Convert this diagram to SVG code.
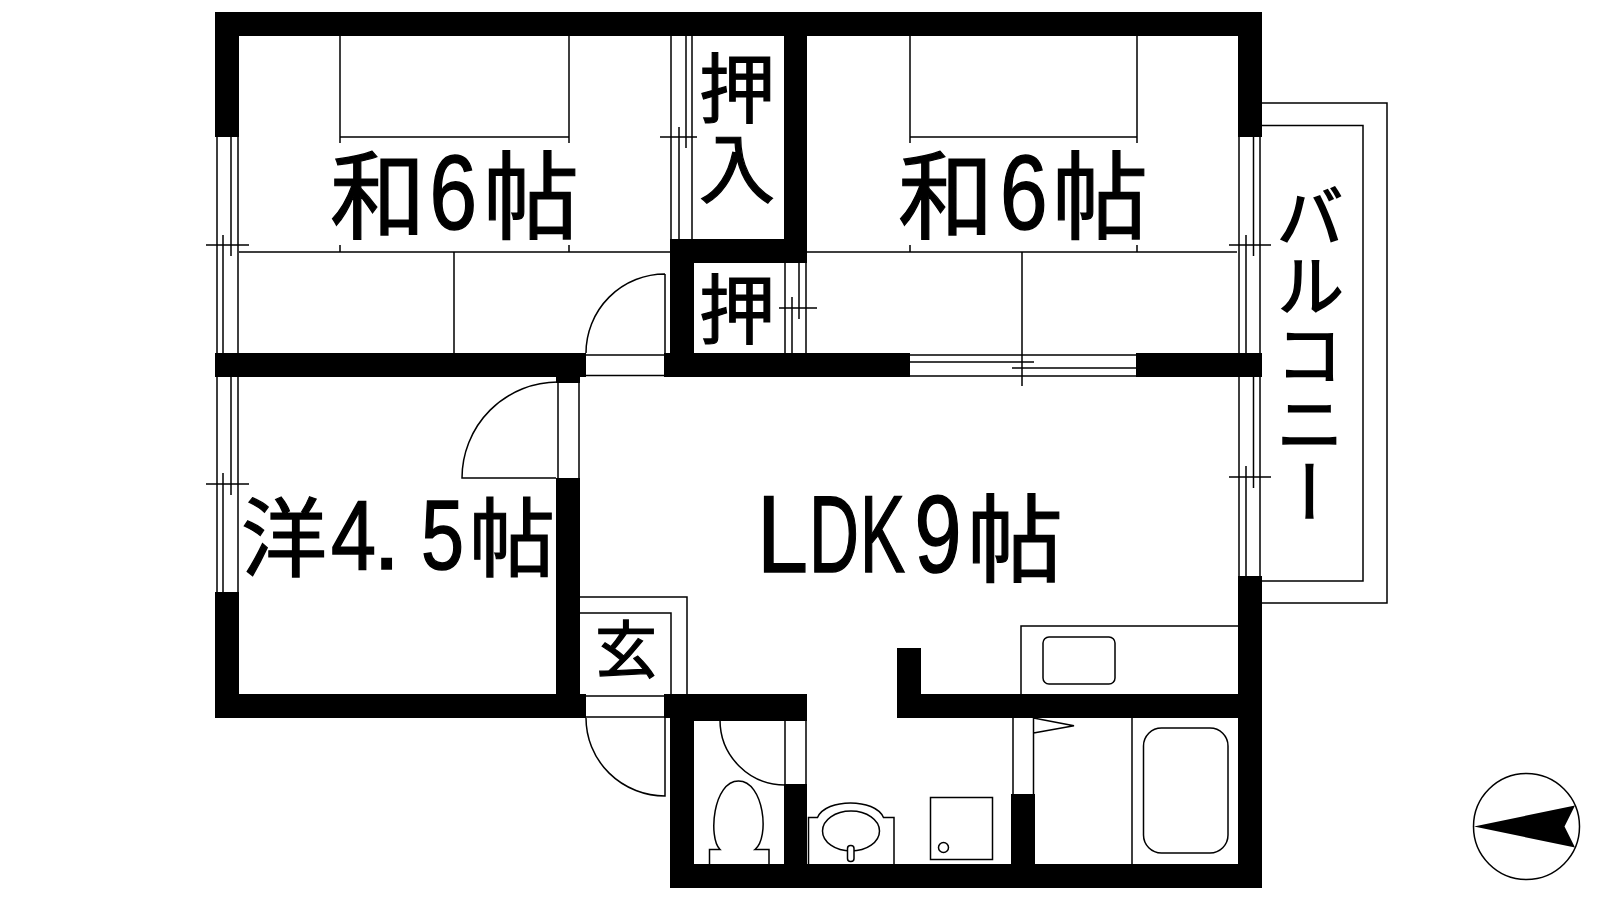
<svg xmlns="http://www.w3.org/2000/svg" width="1600" height="900" viewBox="0 0 1600 900">
<style>
.w{fill:#000;stroke:none}
.l{fill:none;stroke:#000;stroke-width:1.500}
.t{font-family:"Noto Sans CJK JP",sans-serif;fill:#000;stroke:#000;stroke-width:1.200}
.n{font-family:"Liberation Sans",sans-serif;stroke-width:1.500}
.v{writing-mode:vertical-rl}
</style>
<rect width="1600" height="900" fill="#fff"/>
<g id="thin-lines">
<path class="l" d="M340 36V143M569 36V143M340 137H569M340 245V252M569 245V252M239 252H670M454 252V353"/>
<path class="l" d="M910 36V143M1137 36V143M910 137H1137M910 245V252M1137 245V252M807 252H1237M1022 252V386"/>
<path class="l" d="M217 137V353M238 137V353M231 137V256M223 235V353M206 245H249"/>
<path class="l" d="M217 377V592M238 377V592M231 377V495M223 473V592M206 484H249"/>
<path class="l" d="M671 36V239M692 36V239M686 36V148M679 127V239M660 137H697"/>
<path class="l" d="M785 263V353M806 263V353M799 263V319M792 297V353M779 308H817"/>
<path class="l" d="M1239 137V353M1260 137V353M1253.500 137V256M1246 235V353M1229 245H1271"/>
<path class="l" d="M1239 377V576M1260 377V576M1253.500 377V488M1246 466V576M1229 477H1271"/>
<path class="l" d="M910 355H1136M910 376H1136M910 362H1034M1012 368H1136"/>
<path class="l" d="M1262 103H1387V603H1262M1262 125.500H1363V581H1262"/>
<path class="l" d="M665 274V353M665 274A79 79 0 0 0 586 353M586 355H664M586 375.500H664"/>
<path class="l" d="M558 383V478M579 383V478M558 382A96 96 0 0 0 462 478H556"/>
<path class="l" d="M580 597H687V694M580 613H671V694"/>
<path class="l" d="M586 696H664M586 717H664M665 718V796A79 78 0 0 1 586 718"/>
<path class="l" d="M785 720V784M806 720V784M785 720H720A65 65 0 0 0 785 785"/>
<path class="l" d="M1013 718V794M1033.500 718V794M1033.500 718L1074 725.700L1033.500 733"/>
</g>
<g id="walls">
<path class="w" d="M215 12H1262V137H1238V36H807V263H694V353H910V377H664V353H670V239H784V36H239V137H215Z"/>
<rect class="w" x="1136" y="353" width="126" height="24"/>
<rect class="w" x="215" y="353" width="371" height="24"/>
<rect class="w" x="556" y="377" width="24" height="6"/>
<rect class="w" x="556" y="478" width="24" height="240"/>
<path class="w" d="M215 592H239V694H586V718H215Z"/>
<path class="w" d="M664 694H807V721H784V864H807V784H784V721H694V864H1011V794H1035V864H1238V718H921V694H1238V576H1262V888H670V718H664Z"/>
<path class="w" d="M897 648H921V718H897Z"/>
</g>
<g id="wc">
<path class="l" d="M709.500 864V849.500H720C708 838 713 781 738.500 781C764 781 770 838 755 849.500H769V864"/>
</g>
<g id="washbasin">
<path class="l" d="M808.500 864V817.500H817.500C826 798 875 798 883.500 817.500H894V864"/>
<ellipse class="l" cx="851" cy="831" rx="28.500" ry="20"/>
<rect class="l" x="847.500" y="845.500" width="6.500" height="16" rx="3" style="fill:#fff"/>
</g>
<g id="washer">
<rect class="l" x="930.500" y="797.500" width="62" height="62"/>
<circle class="l" cx="943.500" cy="847.500" r="5"/>
</g>
<g id="kitchen">
<path class="l" d="M1021 694V626H1238"/>
<rect class="l" x="1043" y="637" width="72" height="47" rx="6"/>
</g>
<g id="bath">
<path class="l" d="M1132 718V864"/>
<rect class="l" x="1143.500" y="728" width="84.500" height="125" rx="18"/>
</g>
<g id="compass">
<ellipse class="l" cx="1526.500" cy="826.500" rx="53" ry="53"/>
<path class="w" d="M1474 826.500L1575 805.500L1564.500 826.500L1575 847.500Z"/>
</g>
<g id="labels">
<text class="t" font-size="96" y="231"><tspan x="330">和</tspan><tspan class="n" x="429.500" y="229" font-size="105" textLength="47.500" lengthAdjust="spacingAndGlyphs">6</tspan><tspan x="483" y="231">帖</tspan></text>
<text class="t" font-size="96" y="231"><tspan x="898">和</tspan><tspan class="n" x="1000" y="229" font-size="105" textLength="47.500" lengthAdjust="spacingAndGlyphs">6</tspan><tspan x="1052" y="231">帖</tspan></text>
<text class="t" font-size="86" y="570"><tspan x="241">洋</tspan><tspan class="n" x="331" y="569" font-size="98" textLength="45" lengthAdjust="spacingAndGlyphs">4</tspan><tspan class="n" x="373" y="569" font-size="98">.</tspan><tspan class="n" x="421" y="569" font-size="98" textLength="43" lengthAdjust="spacingAndGlyphs">5</tspan><tspan x="469" y="570">帖</tspan></text>
<text class="t" font-size="96" y="572"><tspan class="n" x="757" font-size="109" textLength="51" lengthAdjust="spacingAndGlyphs">L</tspan><tspan class="n" x="809" font-size="109" textLength="50" lengthAdjust="spacingAndGlyphs">D</tspan><tspan class="n" x="860" font-size="109" textLength="45" lengthAdjust="spacingAndGlyphs">K</tspan><tspan class="n" x="914.500" font-size="109" textLength="47" lengthAdjust="spacingAndGlyphs">9</tspan><tspan x="967" y="574">帖</tspan></text>
<text class="t v" font-size="76" x="737" y="50" letter-spacing="4">押入</text>
<text class="t" font-size="76" x="699" y="338">押</text>
<text class="t" font-size="62" x="595" y="673">玄</text>
<text class="t v" font-size="68" x="1310" y="182" letter-spacing="1" style="stroke-width:1.600">バルコニー</text>
</g>
</svg>
